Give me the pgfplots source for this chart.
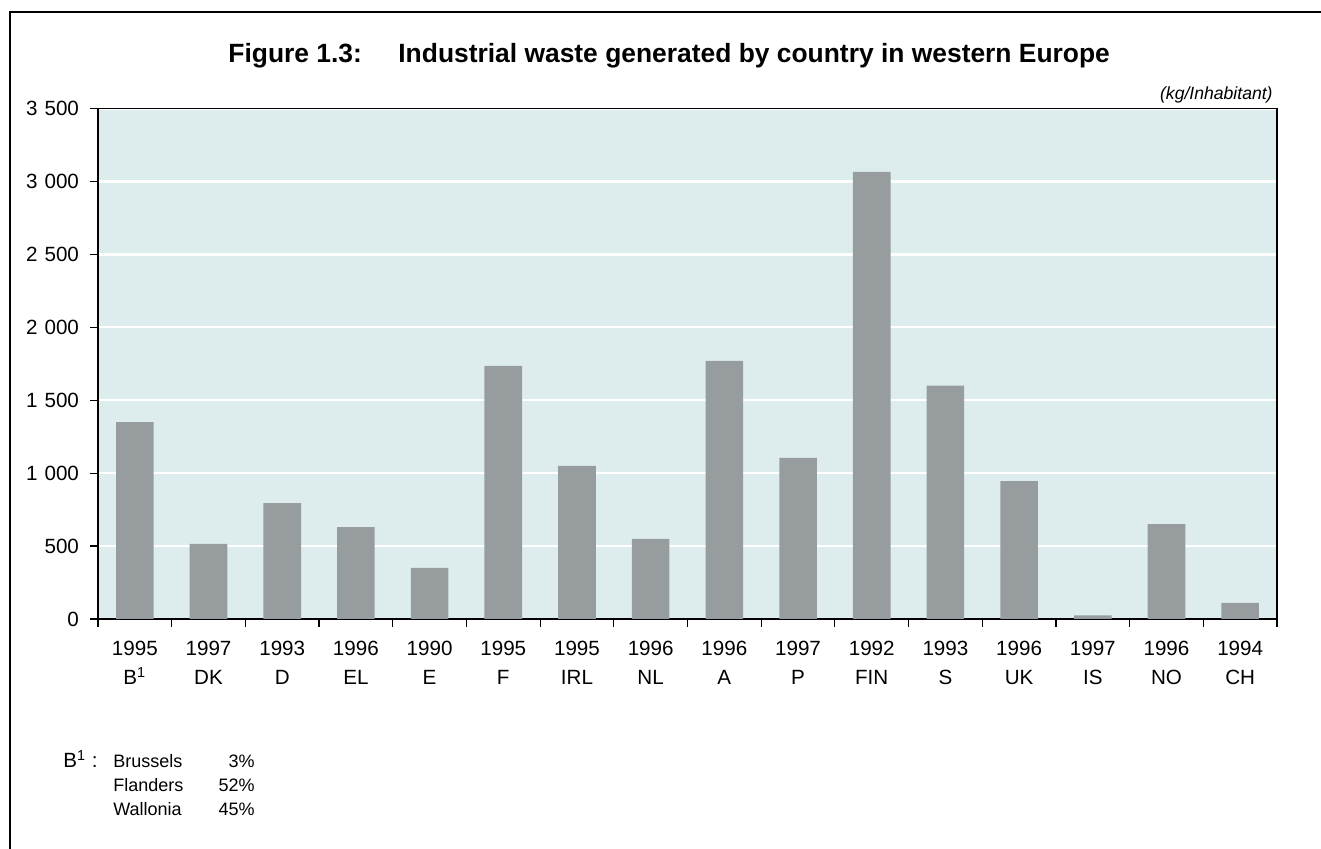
\documentclass[border=0pt]{standalone}
\usepackage{fontspec}
\setmainfont{Liberation Sans}
\usepackage{pgfplots}
\pgfplotsset{compat=1.18}
\definecolor{bgc}{RGB}{221,237,237}
\definecolor{barc}{RGB}{151,156,159}
\newcommand{\ts}{\hspace{0.34em}}
\begin{document}
\begin{tikzpicture}
\useasboundingbox (0,0) rectangle (660.5pt,424.5pt);
\draw[line width=0.75pt] (5pt,0) -- (5pt,418.5pt) -- (660.5pt,418.5pt);
\node[anchor=base west,inner sep=0pt,font=\fontsize{13.2}{15}\selectfont\bfseries] at (114pt,393pt) {Figure 1.3:};
\node[anchor=base west,inner sep=0pt,font=\fontsize{13.2}{15}\selectfont\bfseries] at (199pt,393pt) {Industrial waste generated by country in western Europe};
\node[anchor=base east,inner sep=0pt,font=\fontsize{8.8}{10}\selectfont\itshape] at (636.5pt,374.5pt) {(kg/Inhabitant)};
\begin{axis}[
  at={(49pt,115pt)}, anchor=south west,
  scale only axis, width=589.5pt, height=255.25pt,
  xmin=-0.5, xmax=15.5, ymin=0, ymax=3500,
  axis background/.style={fill=bgc},
  axis line style={draw=black, line width=0.6pt},
  ybar, bar width=0.51,
  ytick={0,500,...,3500},
  yticklabels={0,500,1\ts000,1\ts500,2\ts000,2\ts500,3\ts000,3\ts500},
  ymajorgrids, grid style={white, line width=1.2pt},
  xtick={0,...,15},
  major x tick style={draw=none},
  minor xtick={-0.5,0.5,...,15.5},
  minor x tick style={black, line width=0.6pt},
  minor tick length=4pt,
  y tick style={black, line width=0.6pt},
  major tick length=4pt,
  tick align=outside,
  xtick pos=bottom, ytick pos=left,
  xticklabels={{1995\\B\textsuperscript{1}},{1997\\DK},{1993\\D},{1996\\EL},{1990\\E},{1995\\F},{1995\\IRL},{1996\\NL},{1996\\A},{1997\\P},{1992\\FIN},{1993\\S},{1996\\UK},{1997\\IS},{1996\\NO},{1994\\CH}},
  x tick label style={align=center, font=\fontsize{10.3}{14.5}\selectfont, yshift=-3.5pt},
  y tick label style={font=\fontsize{10.3}{12}\selectfont, xshift=-2pt},
]
\addplot[fill=barc, draw=none] coordinates {
(0,1350) (1,515) (2,795) (3,630) (4,350) (5,1735) (6,1050) (7,550)
(8,1770) (9,1105) (10,3065) (11,1600) (12,945) (13,25) (14,650) (15,110)
};
\end{axis}
\node[anchor=base west,inner sep=0pt,font=\fontsize{10.3}{12}\selectfont] at (31.5pt,40.5pt) {B\textsuperscript{1} :};
\begin{scope}[every node/.style={inner sep=0pt,font=\fontsize{9}{11}\selectfont}]
\node[anchor=base west] at (56.5pt,40.5pt) {Brussels};
\node[anchor=base west] at (56.5pt,28.5pt) {Flanders};
\node[anchor=base west] at (56.5pt,16.5pt) {Wallonia};
\node[anchor=base east] at (127.5pt,40.5pt) {3\%};
\node[anchor=base east] at (127.5pt,28.5pt) {52\%};
\node[anchor=base east] at (127.5pt,16.5pt) {45\%};
\end{scope}
\end{tikzpicture}
\end{document}
